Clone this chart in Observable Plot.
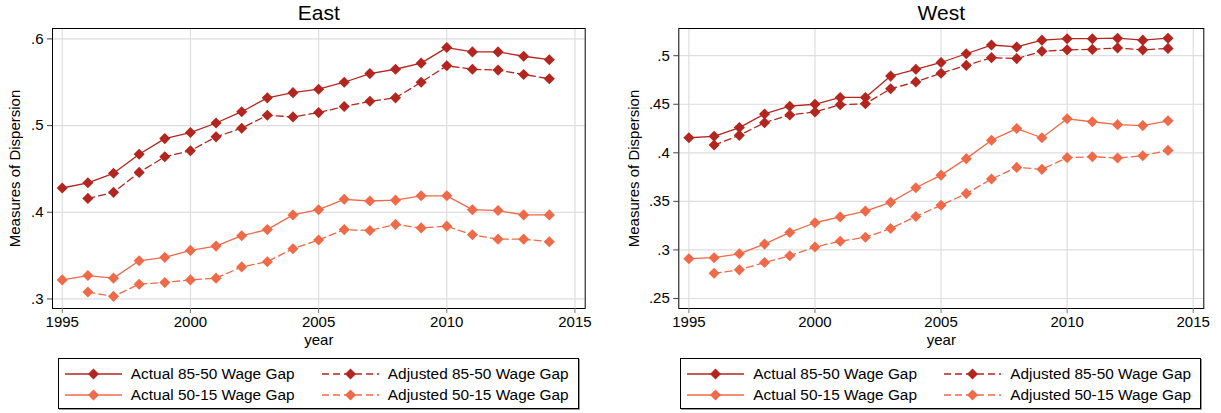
<!DOCTYPE html>
<html><head><meta charset="utf-8">
<script src="https://cdn.jsdelivr.net/npm/d3@7"></script>
<script src="https://cdn.jsdelivr.net/npm/@observablehq/plot@0.6"></script>
<style>
body{margin:0;background:#fff;font-family:"Liberation Sans",Arial,sans-serif;}
#root{position:relative;width:1221px;height:413px;overflow:hidden;background:#fff;}
.panel{position:absolute;top:0;}
.legend{position:absolute;box-sizing:border-box;border:1px solid #000;box-shadow:1px 1px 0 #9a9a9a;background:#fff;}
.item{position:absolute;height:20px;display:flex;align-items:center;font-size:15.4px;color:#000;white-space:nowrap;}
.item svg{margin-right:8px;}
</style></head><body><div id="root"></div>
<script>
// ---- data ----
const years = [1995,1996,1997,1998,1999,2000,2001,2002,2003,2004,2005,2006,2007,2008,2009,2010,2011,2012,2013,2014];
const seriesNames = ["Actual 85-50 Wage Gap","Adjusted 85-50 Wage Gap","Actual 50-15 Wage Gap","Adjusted 50-15 Wage Gap"];
const seriesColors = ["#B2261F","#B2261F","#EF6A49","#EF6A49"];
const seriesDashed = [false,true,false,true];

const eastActual8550   = [.428,.434,.445,.467,.485,.492,.503,.516,.532,.538,.542,.550,.560,.565,.572,.590,.585,.585,.580,.576];
const eastAdjusted8550 = [null,.416,.423,.446,.464,.471,.487,.497,.512,.510,.515,.522,.528,.532,.550,.569,.565,.564,.559,.554];
const eastActual5015   = [.322,.327,.324,.344,.348,.356,.361,.373,.380,.397,.403,.415,.413,.414,.419,.419,.403,.402,.397,.397];
const eastAdjusted5015 = [null,.308,.303,.317,.319,.322,.324,.337,.343,.358,.368,.380,.379,.386,.382,.384,.374,.369,.369,.366];

const westActual8550   = [.4155,.417,.426,.440,.448,.450,.457,.457,.479,.486,.493,.502,.511,.509,.516,.5175,.5175,.518,.516,.518];
const westAdjusted8550 = [null,.408,.418,.431,.439,.442,.4495,.4505,.466,.473,.482,.490,.498,.497,.5045,.506,.5065,.508,.506,.5075];
const westActual5015   = [.291,.292,.296,.306,.318,.328,.334,.340,.349,.364,.377,.394,.413,.425,.4155,.435,.432,.429,.428,.433];
const westAdjusted5015 = [null,.276,.2795,.287,.294,.303,.309,.313,.322,.3345,.346,.358,.373,.385,.383,.395,.396,.3946,.397,.4025];

const xTicks = [1995,2000,2005,2010,2015];
const eastYTicks = [.3,.4,.5,.6];
const westYTicks = [.25,.3,.35,.4,.45,.5];

const panels = [
  {title:"East", left:0, width:610, mL:52, mR:25.3, xDom:[1994.62,2015.4], yDom:[0.289,0.612], yTicks:eastYTicks, yLabelDx:-37,
   series:[eastActual8550,eastAdjusted8550,eastActual5015,eastAdjusted5015]},
  {title:"West", left:610, width:611, mL:68.3, mR:17.7, xDom:[1994.6,2015.42], yDom:[0.2397,0.528], yTicks:westYTicks, yLabelDx:-45,
   series:[westActual8550,westAdjusted8550,westActual5015,westAdjusted5015]}
];

const fmt = v => d3.format(".2~f")(v).replace(/^0\./, ".");
const root = document.getElementById("root");
const FONT = '"Liberation Sans", Arial, sans-serif';

for (const p of panels) {
  const marks = [
    Plot.gridY(p.yTicks, {stroke:"#dedede", strokeOpacity:1, strokeWidth:1.2}),
    Plot.gridX(xTicks, {stroke:"#dedede", strokeOpacity:1, strokeWidth:1.2}),
    Plot.frame({stroke:"#000", strokeWidth:1}),
    Plot.axisY(p.yTicks, {tickFormat:fmt, tickSize:5, tickPadding:4, stroke:"#444", label:null, fontSize:"15px"}),
    Plot.axisX(xTicks, {tickFormat:d=>String(d), tickSize:5, tickPadding:3, stroke:"#777", label:null, fontSize:"15px"}),
  ];
  p.series.forEach((vals, i) => {
    const data = years.map((y, j) => ({year:y, value:vals[j]})).filter(d => d.value != null);
    marks.push(Plot.line(data, {x:"year", y:"value", stroke:seriesColors[i], strokeWidth:1.3,
      strokeDasharray: seriesDashed[i] ? "7,4" : null}));
    marks.push(Plot.dot(data, {x:"year", y:"value", symbol:"diamond2", r:5, fill:seriesColors[i], stroke:"none"}));
  });
  marks.push(Plot.text([p.title], {frameAnchor:"top", dy:-15.5, fontSize:"21px", fill:"#000", textAnchor:"middle", lineAnchor:"middle"}));
  marks.push(Plot.text(["Measures of Dispersion"], {frameAnchor:"left", dx:p.yLabelDx, rotate:-90, fontSize:"15px", fill:"#000", textAnchor:"middle", lineAnchor:"middle"}));
  marks.push(Plot.text(["year"], {frameAnchor:"bottom", dy:32, fontSize:"15px", fill:"#000", textAnchor:"middle", lineAnchor:"middle"}));

  const svg = Plot.plot({
    width:p.width, height:350,
    marginLeft:p.mL, marginRight:p.mR, marginTop:28, marginBottom:42,
    x:{domain:p.xDom, axis:null},
    y:{domain:p.yDom, axis:null},
    style:{fontFamily:FONT, fontSize:"15px", background:"#fff", color:"#000", overflow:"visible"},
    marks
  });
  const div = document.createElement("div");
  div.className = "panel";
  div.style.left = p.left + "px";
  div.appendChild(svg);
  root.appendChild(div);

  // legend below the chart
  const plotCenter = p.left + p.mL + (p.width - p.mL - p.mR) / 2;
  const lw = 521, lh = 51;
  const leg = document.createElement("div");
  leg.className = "legend";
  leg.style.left = (plotCenter - lw/2) + "px";
  leg.style.top = "358px";
  leg.style.width = lw + "px";
  leg.style.height = lh + "px";
  const pos = [[5,5],[262,5],[5,26],[262,26]];
  [0,1,2,3].forEach((si, k) => {
    const it = document.createElement("div");
    it.className = "item";
    it.style.left = pos[k][0] + "px";
    it.style.top = pos[k][1] + "px";
    const dash = seriesDashed[si] ? 'stroke-dasharray="7,4"' : '';
    it.innerHTML = `<svg width="59" height="20"><line x1="1" x2="58" y1="10" y2="10" stroke="${seriesColors[si]}" stroke-width="1.3" ${dash}/>` +
      `<path d="M29.5,4.5L35,10L29.5,15.5L24,10Z" fill="${seriesColors[si]}"/></svg><span>${seriesNames[si]}</span>`;
    leg.appendChild(it);
  });
  root.appendChild(leg);
}
</script>
</body></html>
